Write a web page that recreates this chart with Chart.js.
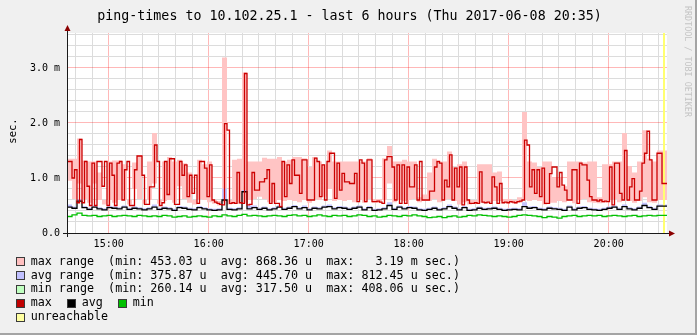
<!DOCTYPE html>
<html><head><meta charset="utf-8">
<script src="https://cdn.jsdelivr.net/npm/chart.js@4/dist/chart.umd.min.js"></script>
<style>
html,body{margin:0;padding:0;background:#f0f0f0;overflow:hidden}
canvas{display:block}
</style></head>
<body>
<canvas id="c" width="697" height="335"></canvas>
<script>
// ---- data (times in minutes after 14:35) ----
const maxStepMinutes = 1.5;   // max series: one value per 1.5 minutes
const stepMinutes = 3;        // other series: one value per 3 minutes
const hourTickMinutes = [25, 85, 145, 205, 265, 325];
const hourTickLabels = ['15:00', '16:00', '17:00', '18:00', '19:00', '20:00'];
const yTickLabels = ['0.0', '1.0 m', '2.0 m', '3.0 m'];
const unreachableMinutes = [358.2];

// max (ms)
const maxValues = [
0.93,1.3,1.3,1.0,1.15,0.55,1.7,0.55,1.3,0.85,0.5,1.27,0.5,1.3,1.3,0.85,1.3,0.5,1.27,1.05,0.5,1.27,1.3,0.6,
1.15,1.3,0.5,0.5,1.15,1.4,1.4,1.05,0.52,0.52,0.84,0.84,1.6,1.3,0.5,0.55,1.3,0.7,1.35,1.35,0.52,0.52,1.3,1.05,
1.24,0.66,1.05,0.72,1.05,0.54,1.3,1.3,1.18,0.66,1.24,0.6,0.56,0.54,0.52,0.51,1.99,1.87,0.54,0.55,0.54,1.1,0.55,0.54,
2.9,0.51,0.52,1.1,0.78,0.78,0.93,0.93,0.99,1.15,0.54,0.9,0.54,0.54,0.48,1.3,0.66,1.24,0.9,1.33,1.05,1.05,0.72,1.33,
1.33,0.6,0.6,0.6,1.36,1.3,0.66,1.24,0.6,1.3,1.45,1.45,0.63,1.27,0.78,1.085,0.93,0.93,0.9,0.9,1.085,0.57,1.33,1.27,
0.57,1.33,1.33,0.57,0.57,0.58,0.56,0.54,1.33,1.39,1.39,1.2,0.6,1.24,0.54,1.24,0.54,1.2,0.84,0.84,1.24,0.6,1.3,0.6,
0.6,0.6,0.76,0.76,1.2,1.3,1.27,0.6,0.96,0.84,1.42,0.6,1.18,0.84,1.2,0.51,1.2,0.6,0.54,0.54,0.55,0.54,1.11,0.56,
0.55,0.56,0.54,1.02,0.84,0.54,0.9,0.55,0.56,0.55,0.57,0.56,0.55,0.57,0.58,0.6,1.69,1.6,0.84,1.15,0.72,1.15,0.66,1.18,
0.54,0.54,1.08,1.2,1.2,0.84,1.1,0.87,0.78,0.6,0.6,1.15,1.15,0.54,1.27,1.24,1.24,0.96,0.66,0.6,0.6,0.58,0.6,0.57,
0.58,0.57,1.2,0.51,1.27,1.27,0.72,0.6,1.5,0.6,0.84,0.99,0.6,0.6,0.76,1.27,1.45,1.85,1.33,0.6,0.6,1.45,1.45,0.9
];
// max range: upper and lower edge (ms), per 3 minutes
const maxRangeHigh = [
1.3,1.35,1.35,1.72,1.32,1.3,1.3,1.1,0.6,1.3,1.32,1.32,1.25,0.6,1.28,1.42,0.6,1.3,1.82,0.6,1.3,1.38,1.3,1.33,
1.27,1.1,0.6,1.33,1.25,1.3,0.6,0.58,3.19,0.6,1.33,1.35,2.92,1.3,1.3,1.3,1.37,1.35,1.35,1.38,1.3,1.33,1.38,1.38,
1.36,1.2,1.38,1.3,1.25,1.5,1.3,1.3,1.3,1.3,1.3,1.3,1.3,1.36,0.62,0.62,1.36,1.58,1.3,1.3,1.33,1.3,1.3,0.65,
0.7,1.1,1.35,1.3,1.3,1.48,1.2,1.25,1.3,0.6,0.6,1.25,1.25,1.25,1.1,1.12,0.62,0.62,0.6,0.65,2.2,1.3,1.28,1.2,
1.3,1.3,1.0,1.0,0.85,1.3,1.3,1.3,1.28,1.3,1.3,0.65,1.25,1.25,1.3,1.3,1.82,1.22,1.1,1.3,1.87,1.35,1.3,1.5
];
const maxRangeLow = [
0.55,0.95,0.62,0.9,0.62,0.55,0.9,0.6,0.52,0.6,0.55,0.6,0.6,0.52,0.8,0.62,0.53,0.6,0.9,0.53,0.58,0.6,0.55,0.85,
0.62,0.55,0.52,0.62,0.6,0.56,0.53,0.5,0.56,0.52,0.54,0.53,0.55,0.6,0.62,0.66,0.62,0.56,0.56,0.6,0.58,0.6,0.58,0.56,
0.6,0.55,0.62,0.6,0.66,0.8,0.58,0.6,0.58,0.6,0.56,0.6,0.55,0.62,0.55,0.55,0.6,0.9,0.56,0.6,0.58,0.6,0.62,0.56,
0.58,0.58,0.62,0.56,0.6,0.62,0.58,0.52,0.56,0.52,0.53,0.55,0.54,0.56,0.58,0.58,0.54,0.55,0.53,0.55,0.6,0.58,0.6,0.58,
0.52,0.55,0.55,0.58,0.56,0.6,0.54,0.6,0.62,0.56,0.55,0.54,0.55,0.6,0.62,0.56,0.62,0.58,0.55,0.58,0.65,0.56,0.55,0.6
];
// avg (ms)
const avgValues = [
0.42,0.47,0.45,0.58,0.46,0.43,0.47,0.44,0.42,0.46,0.45,0.44,0.47,0.43,0.45,0.44,0.42,0.44,0.47,0.43,0.45,0.44,0.41,0.46,
0.45,0.43,0.42,0.46,0.44,0.42,0.41,0.42,0.6,0.43,0.42,0.44,0.75,0.44,0.46,0.43,0.45,0.42,0.44,0.47,0.43,0.45,0.48,0.44,
0.46,0.42,0.45,0.44,0.47,0.48,0.44,0.46,0.45,0.43,0.45,0.47,0.42,0.46,0.41,0.42,0.44,0.5,0.43,0.47,0.44,0.46,0.45,0.42,
0.41,0.43,0.45,0.42,0.44,0.48,0.45,0.42,0.46,0.41,0.42,0.45,0.43,0.44,0.45,0.43,0.41,0.42,0.43,0.42,0.48,0.45,0.46,0.43,
0.42,0.45,0.44,0.43,0.41,0.47,0.42,0.45,0.46,0.43,0.42,0.41,0.43,0.45,0.47,0.43,0.48,0.44,0.42,0.45,0.5,0.46,0.43,0.49
];
// avg range upper edge (ms)
const avgRangeHigh = [
0.46,0.52,0.48,0.62,0.49,0.46,0.5,0.47,0.45,0.49,0.48,0.47,0.5,0.46,0.48,0.47,0.45,0.47,0.52,0.46,0.48,0.47,0.44,0.49,
0.48,0.46,0.45,0.49,0.47,0.45,0.44,0.45,0.81,0.46,0.45,0.47,0.78,0.5,0.5,0.46,0.48,0.45,0.47,0.5,0.46,0.48,0.51,0.47,
0.5,0.45,0.48,0.47,0.5,0.52,0.47,0.49,0.48,0.46,0.48,0.5,0.45,0.49,0.44,0.45,0.47,0.56,0.46,0.5,0.47,0.49,0.48,0.45,
0.44,0.46,0.48,0.45,0.47,0.52,0.48,0.45,0.49,0.44,0.45,0.48,0.46,0.47,0.48,0.46,0.44,0.45,0.46,0.45,0.56,0.48,0.49,0.46,
0.45,0.48,0.47,0.46,0.44,0.5,0.45,0.48,0.49,0.46,0.45,0.44,0.46,0.48,0.5,0.46,0.52,0.47,0.45,0.48,0.55,0.49,0.46,0.52
];
// min (ms)
const minValues = [
0.31,0.3,0.33,0.36,0.32,0.31,0.32,0.3,0.31,0.32,0.3,0.31,0.32,0.31,0.3,0.32,0.31,0.3,0.31,0.3,0.32,0.31,0.29,0.3,
0.31,0.29,0.3,0.31,0.3,0.29,0.31,0.3,0.33,0.31,0.3,0.32,0.34,0.31,0.32,0.31,0.3,0.31,0.32,0.31,0.3,0.32,0.33,0.31,
0.32,0.3,0.31,0.33,0.31,0.3,0.32,0.31,0.32,0.3,0.31,0.33,0.32,0.3,0.31,0.29,0.3,0.32,0.31,0.3,0.32,0.31,0.33,0.31,
0.3,0.28,0.29,0.3,0.28,0.3,0.31,0.29,0.3,0.32,0.31,0.33,0.32,0.31,0.3,0.31,0.3,0.29,0.3,0.32,0.33,0.32,0.31,0.3,
0.28,0.3,0.29,0.27,0.3,0.31,0.32,0.3,0.31,0.32,0.31,0.32,0.3,0.31,0.32,0.31,0.3,0.31,0.32,0.3,0.31,0.32,0.31,0.32
];
const legendRows = [
  'max range  (min: 453.03 u  avg: 868.36 u  max:   3.19 m sec.)',
  'avg range  (min: 375.87 u  avg: 445.70 u  max: 812.45 u sec.)',
  'min range  (min: 260.14 u  avg: 317.50 u  max: 408.06 u sec.)'
];
const titleText = 'ping-times to 10.102.25.1 - last 6 hours (Thu 2017-06-08 20:35)';

// ---- helpers ----
const MONO = '"DejaVu Sans Mono", "Liberation Mono", monospace';
const Y_MAX = 3.636;
function steps(arr, step) {
  const p = arr.map((v, i) => ({x: i * step, y: v}));
  p.push({x: arr.length * step, y: arr[arr.length - 1]});
  return p;
}
const minorX = [];
for (let m = 5; m < 360; m += 10) minorX.push(m);
const minorY = [];
for (let k = 0; k <= 18; k++) minorY.push(+(k * 0.2).toFixed(1));

const deco = {
  id: 'deco',
  beforeDraw(chart) {
    const c = chart.ctx, a = chart.chartArea;
    c.save();
    c.fillStyle = '#f0f0f0';
    c.fillRect(0, 0, chart.width, chart.height);
    c.fillStyle = '#ffffff';
    c.fillRect(a.left, a.top, a.right - a.left, a.bottom - a.top);
    c.fillStyle = '#a4a4a4';
    c.fillRect(0, chart.height - 2, chart.width, 2);
    c.fillRect(chart.width - 2, 0, 2, chart.height);
    c.restore();
  },
  afterDraw(chart) {
    const c = chart.ctx, a = chart.chartArea;
    c.save();
    c.strokeStyle = '#1a1a1a';
    c.lineWidth = 1;
    c.beginPath();
    c.moveTo(a.left - 4, a.bottom + 0.5); c.lineTo(a.right + 2, a.bottom + 0.5);
    c.moveTo(a.left + 0.5, a.bottom + 4); c.lineTo(a.left + 0.5, a.top - 3);
    c.stroke();
    c.fillStyle = '#8b0000';
    c.beginPath();
    c.moveTo(a.left + 0.5, a.top - 8); c.lineTo(a.left - 2.5, a.top - 2); c.lineTo(a.left + 3.5, a.top - 2); c.closePath();
    c.fill();
    c.beginPath();
    c.moveTo(a.right + 8, a.bottom + 0.5); c.lineTo(a.right + 2, a.bottom - 2.5); c.lineTo(a.right + 2, a.bottom + 3.5); c.closePath();
    c.fill();
    c.fillStyle = '#000';
    c.font = '13.3px ' + MONO;
    c.textAlign = 'center'; c.textBaseline = 'middle';
    c.fillText(titleText, 349.5, 17);
    c.save();
    c.translate(13, 131);
    c.rotate(-Math.PI / 2);
    c.font = '10.5px ' + MONO;
    c.fillText('sec.', 0, 0);
    c.restore();
    c.save();
    c.translate(687, 6);
    c.rotate(Math.PI / 2);
    c.font = '8.4px ' + MONO;
    c.fillStyle = '#c4c4c4';
    c.textAlign = 'left'; c.textBaseline = 'middle';
    c.fillText('RRDTOOL / TOBI OETIKER', 0, 0);
    c.restore();
    const rowsY = [261.7, 275.6, 289.4, 303.3, 317.2];
    c.font = '11.7px ' + MONO;
    c.textAlign = 'left'; c.textBaseline = 'middle';
    function sw(x, y, col) {
      c.fillStyle = col;
      c.fillRect(x, Math.round(y - 4.5), 9, 9);
      c.strokeStyle = '#3a3a3a';
      c.strokeRect(x + 0.5, Math.round(y - 4.5) + 0.5, 8, 8);
    }
    const rangeCols = ['#ffc0c0', '#c0c0ff', '#c0ffc0'];
    for (let r = 0; r < 3; r++) {
      sw(16, rowsY[r], rangeCols[r]);
      c.fillStyle = '#000';
      c.fillText(legendRows[r], 30.7, rowsY[r]);
    }
    const lineCols = ['#c00000', '#000000', '#00c000'];
    const lineNames = ['max', 'avg', 'min'];
    for (let k = 0; k < 3; k++) {
      sw(16 + 51 * k, rowsY[3], lineCols[k]);
      c.fillStyle = '#000';
      c.fillText(lineNames[k], 30.7 + 51 * k, rowsY[3]);
    }
    sw(16, rowsY[4], '#ffffa0');
    c.fillStyle = '#000';
    c.fillText('unreachable', 30.7, rowsY[4]);
    c.restore();
  }
};

const lineBase = {pointRadius: 0, pointHoverRadius: 0, stepped: 'after', fill: false, borderJoinStyle: 'miter'};

new Chart(document.getElementById('c'), {
  type: 'line',
  data: {
    datasets: [
      Object.assign({}, lineBase, {label: 'max', data: steps(maxValues, maxStepMinutes), borderColor: '#cc0000', borderWidth: 1.3}),
      Object.assign({}, lineBase, {label: 'avg', data: steps(avgValues, stepMinutes), borderColor: '#000000', borderWidth: 1.3}),
      Object.assign({}, lineBase, {label: 'min', data: steps(minValues, stepMinutes), borderColor: '#00c000', borderWidth: 1.3}),
      {label: 'unreachable', data: unreachableMinutes.flatMap(m => [{x: m, y: 0}, {x: m, y: Y_MAX}]),
       borderColor: '#ffff70', borderWidth: 2, pointRadius: 0, fill: false},
      Object.assign({}, lineBase, {label: 'avg range', data: steps(avgRangeHigh, stepMinutes), borderWidth: 0, borderColor: 'rgba(0,0,0,0)',
        fill: 1, backgroundColor: '#c4c4ff'}),
      Object.assign({}, lineBase, {label: 'max range', data: steps(maxRangeHigh, stepMinutes), borderWidth: 0, borderColor: 'rgba(0,0,0,0)',
        fill: '+1', backgroundColor: '#ffc4c4'}),
      Object.assign({}, lineBase, {label: 'max range low', data: steps(maxRangeLow, stepMinutes), borderWidth: 0, borderColor: 'rgba(0,0,0,0)'})
    ]
  },
  options: {
    responsive: false,
    devicePixelRatio: 1,
    animation: false,
    events: [],
    layout: {padding: {left: 0, top: 33, right: 30, bottom: 0}},
    plugins: {legend: {display: false}, tooltip: {enabled: false}, title: {display: false}},
    scales: {
      x: {
        type: 'linear', min: 0, max: 360,
        afterBuildTicks: s => { s.ticks = minorX.map(v => ({value: v})); },
        afterFit: s => { s.height = 102; },
        border: {display: false},
        grid: {drawTicks: false, lineWidth: 1,
          color: ctx => hourTickMinutes.includes(ctx.tick && ctx.tick.value) ? 'rgba(255,0,0,0.28)' : '#dcdcdc'},
        ticks: {autoSkip: false, maxRotation: 0, padding: 5, color: '#000', font: {family: MONO, size: 10},
          callback: v => { const k = hourTickMinutes.indexOf(v); return k >= 0 ? hourTickLabels[k] : ''; }}
      },
      y: {
        type: 'linear', min: 0, max: Y_MAX,
        afterBuildTicks: s => { s.ticks = minorY.map(v => ({value: v})); },
        afterFit: s => { s.width = 67; },
        border: {display: false},
        grid: {drawTicks: false, lineWidth: 1,
          color: ctx => { const v = ctx.tick ? ctx.tick.value : 0.5; return Math.abs(v - Math.round(v)) < 1e-6 && v > 0 ? 'rgba(255,0,0,0.28)' : '#dcdcdc'; }},
        ticks: {autoSkip: false, padding: 7, color: '#000', font: {family: MONO, size: 10},
          callback: v => Math.abs(v - Math.round(v)) < 1e-6 ? (yTickLabels[Math.round(v)] || '') : ''}
      }
    }
  },
  plugins: [deco]
});
</script>
</body></html>
